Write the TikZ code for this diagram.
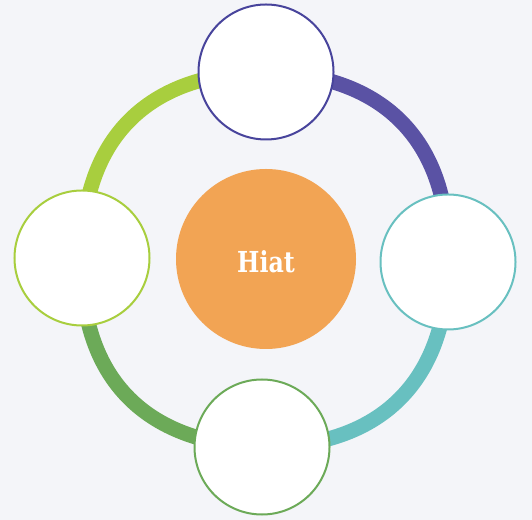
\documentclass[tikz,border=0pt]{standalone}
\usepackage{fontspec}
\newfontfamily\hiatfont[FakeStretch=0.82]{DejaVu Serif}
\usepackage{tikz}
\definecolor{ring_purple}{RGB}{90,82,164}
\definecolor{ring_navy}{RGB}{72,68,156}
\definecolor{ring_teal}{RGB}{104,192,192}
\definecolor{ring_green}{RGB}{108,170,88}
\definecolor{ring_lime}{RGB}{168,206,62}
\definecolor{hiat_orange}{RGB}{242,164,84}
\definecolor{page_bg}{RGB}{244,245,249}
\pgfdeclarelayer{background}
\pgfsetlayers{background,main}
\tikzstyle{node_normal} = [circle, draw, fill=white, line width=2bp, inner sep=0pt, minimum size=135bp]
\tikzstyle{node_centre} = [circle, fill=hiat_orange, inner sep=0pt, minimum size=180bp]
\tikzstyle{node_label} = [text=white, font=\hiatfont\bfseries\fontsize{29}{29}\selectfont]
\tikzstyle{edge_normal} = [line width=15bp, bend left=45, looseness=1.16]

\begin{document}
\begin{tikzpicture}[x=1bp,y=1bp]
			\useasboundingbox (0,0) rectangle (532,520);

			\node (H) at (266,261) [node_centre] {};
			\node (Hl) at (266,258) [node_label] {Hiat};
			\node (N) at (266,448) [node_normal, draw=ring_navy] {};
			\node (E) at (448,258) [node_normal, draw=ring_teal] {};
			\node (S) at (262,73) [node_normal, draw=ring_green] {};
			\node (W) at (82,262) [node_normal, draw=ring_lime] {};

			\begin{pgfonlayer}{background}
			\fill[page_bg] (0,0) rectangle (532,520);
			\draw[edge_normal, ring_purple] (N.center) to (E.center);
			\draw[edge_normal, ring_teal] (E.center) to (S.center);
			\draw[edge_normal, ring_green] (S.center) to (W.center);
			\draw[edge_normal, ring_lime] (W.center) to (N.center);
			\end{pgfonlayer}
		\end{tikzpicture}
\end{document}
